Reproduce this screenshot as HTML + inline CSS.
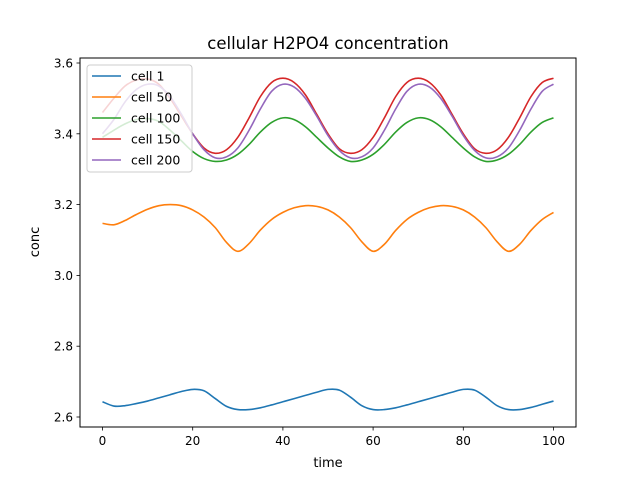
<!DOCTYPE html>
<html><head><meta charset="utf-8"><style>
body{margin:0;background:#fff}
svg{display:block;font-family:"DejaVu Sans","Liberation Sans",sans-serif}
</style></head><body>
<svg id="c" width="640" height="480">
<rect width="640" height="480" fill="#fff"/>
<text x="328" y="49" text-anchor="middle" font-size="16.5">cellular H2PO4 concentration</text>
<g id="plot"></g>
<rect x="80" y="58" width="496" height="369" fill="none" stroke="#000" stroke-width="1"/>
<g id="axes"></g>
<text x="328" y="467" text-anchor="middle" font-size="13">time</text>
<text transform="translate(39,242) rotate(-90)" text-anchor="middle" font-size="13">conc</text>
<g id="legend"></g>
</svg>
<script>
const times=[0,2.5,5,7.5,10,12.5,15,17.5,20,22.5,25,27.5,30,32.5,35,37.5,40,42.5,45,47.5,50,52.5,55,57.5,60,62.5,65,67.5,70,72.5,75,77.5,80,82.5,85,87.5,90,92.5,95,97.5,100];
const cell1=[2.643,2.631,2.632,2.638,2.645,2.654,2.663,2.672,2.678,2.674,2.652,2.630,2.621,2.621,2.626,2.634,2.643,2.652,2.661,2.670,2.678,2.676,2.656,2.632,2.621,2.621,2.626,2.634,2.643,2.652,2.661,2.670,2.678,2.676,2.656,2.632,2.621,2.621,2.627,2.636,2.645];
const cell50=[3.147,3.143,3.155,3.172,3.187,3.197,3.200,3.197,3.185,3.165,3.135,3.093,3.068,3.090,3.128,3.158,3.178,3.191,3.197,3.195,3.185,3.165,3.135,3.095,3.068,3.088,3.127,3.158,3.178,3.191,3.197,3.195,3.185,3.165,3.135,3.095,3.068,3.088,3.127,3.158,3.178];
const cell100=[3.39,3.41,3.428,3.44,3.443,3.435,3.41,3.38,3.35,3.33,3.322,3.326,3.342,3.37,3.405,3.432,3.445,3.44,3.42,3.39,3.36,3.335,3.322,3.326,3.342,3.37,3.405,3.432,3.445,3.44,3.42,3.39,3.36,3.335,3.322,3.326,3.342,3.37,3.405,3.432,3.445];
const cell150=[3.46,3.50,3.535,3.552,3.555,3.54,3.50,3.45,3.40,3.36,3.345,3.355,3.39,3.445,3.505,3.545,3.557,3.545,3.51,3.455,3.40,3.358,3.345,3.355,3.39,3.445,3.505,3.545,3.557,3.545,3.51,3.455,3.40,3.358,3.345,3.355,3.39,3.445,3.505,3.545,3.557];
const cell200=[3.40,3.44,3.49,3.525,3.54,3.535,3.505,3.455,3.40,3.355,3.332,3.335,3.36,3.41,3.47,3.52,3.54,3.532,3.50,3.45,3.395,3.353,3.332,3.335,3.36,3.41,3.47,3.52,3.54,3.532,3.50,3.45,3.395,3.353,3.332,3.335,3.36,3.41,3.47,3.52,3.54];
const seriesNames=["cell 1","cell 50","cell 100","cell 150","cell 200"];
const xTicks=[0,20,40,60,80,100];
const yTicks=[2.6,2.8,3.0,3.2,3.4,3.6];
const yTickLabels=["2.6","2.8","3.0","3.2","3.4","3.6"];

const colors=["#1f77b4","#ff7f0e","#2ca02c","#d62728","#9467bd"];
const allSeries=[cell1,cell50,cell100,cell150,cell200];
const NS="http://www.w3.org/2000/svg";
const xS=v=>102.5+v*4.51;
const yS=v=>417-(v-2.6)*354;
function mk(tag,attrs,parent){const e=document.createElementNS(NS,tag);for(const k in attrs)e.setAttribute(k,attrs[k]);parent.appendChild(e);return e;}
const plot=document.getElementById('plot'),axes=document.getElementById('axes'),legend=document.getElementById('legend');
function smooth(pts){let d=`M${pts[0][0]},${pts[0][1]}`;for(let i=0;i<pts.length-1;i++){const p0=pts[i-1]||pts[i],p1=pts[i],p2=pts[i+1],p3=pts[i+2]||p2;
const c1=[p1[0]+(p2[0]-p0[0])/6,p1[1]+(p2[1]-p0[1])/6],c2=[p2[0]-(p3[0]-p1[0])/6,p2[1]-(p3[1]-p1[1])/6];
d+=`C${c1[0].toFixed(2)},${c1[1].toFixed(2)} ${c2[0].toFixed(2)},${c2[1].toFixed(2)} ${p2[0].toFixed(2)},${p2[1].toFixed(2)}`;}return d;}
allSeries.forEach((s,i)=>{const pts=s.map((v,j)=>[xS(times[j]),yS(v)]);
const p=mk('path',{d:smooth(pts),fill:'none',stroke:colors[i],'stroke-width':1.6,'stroke-linejoin':'round'},plot);

});
xTicks.forEach(t=>{const x=xS(t);const l=mk('line',{x1:x,x2:x,y1:427,y2:430.5,stroke:'#000','stroke-width':0.8},axes);


const tx=mk('text',{x:x,y:445,'text-anchor':'middle','font-size':12},axes);tx.textContent=t;

});
yTicks.forEach((t,i)=>{const y=yS(t);const l=mk('line',{x1:76.5,x2:80,y1:y,y2:y,stroke:'#000','stroke-width':0.8},axes);


const tx=mk('text',{x:73,y:y+4.5,'text-anchor':'end','font-size':12},axes);tx.textContent=yTickLabels[i];

});
const box=mk('rect',{x:87,y:65,width:105,height:107,rx:3,fill:'#fff','fill-opacity':0.8,stroke:'#ccc','stroke-width':1},legend);


seriesNames.forEach((n,i)=>{const y=76+i*21;
const l=mk('line',{x1:92,x2:121,y1:y,y2:y,stroke:colors[i],'stroke-width':1.6},legend);


const t=mk('text',{x:131,y:y+4.5,'font-size':12.5},legend);t.textContent=n;

});
</script>
</body></html>
